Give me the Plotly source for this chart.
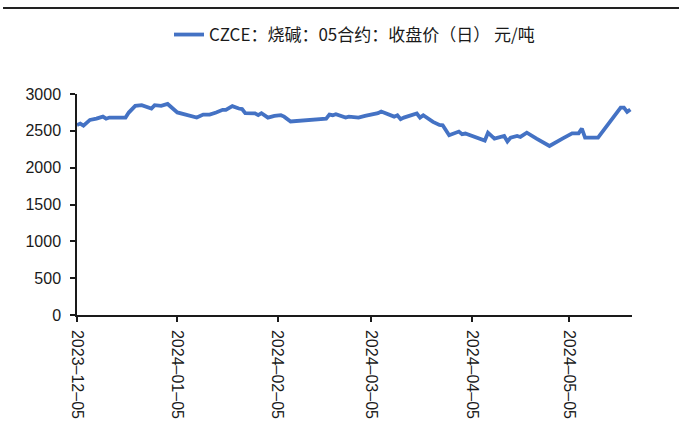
import plotly.graph_objects as go

# CZCE 烧碱 05合约 收盘价（日），元/吨
dates = [
    "2023-12-05", "2023-12-06", "2023-12-07", "2023-12-09", "2023-12-11",
    "2023-12-13", "2023-12-14", "2023-12-15", "2023-12-20", "2023-12-21",
    "2023-12-23", "2023-12-25", "2023-12-28", "2023-12-29", "2023-12-31",
    "2024-01-02", "2024-01-05", "2024-01-06", "2024-01-08", "2024-01-11",
    "2024-01-13", "2024-01-15", "2024-01-17", "2024-01-19", "2024-01-20",
    "2024-01-22", "2024-01-24", "2024-01-25", "2024-01-26", "2024-01-29",
    "2024-01-30", "2024-01-31", "2024-02-02", "2024-02-04", "2024-02-06",
    "2024-02-07", "2024-02-09", "2024-02-20", "2024-02-21", "2024-02-22",
    "2024-02-23", "2024-02-26", "2024-02-27", "2024-03-01", "2024-03-03",
    "2024-03-06", "2024-03-07", "2024-03-08", "2024-03-10", "2024-03-12",
    "2024-03-13", "2024-03-14", "2024-03-15", "2024-03-17", "2024-03-19",
    "2024-03-20", "2024-03-21", "2024-03-24", "2024-03-26", "2024-03-27",
    "2024-03-29", "2024-04-01", "2024-04-02", "2024-04-03", "2024-04-09",
    "2024-04-10", "2024-04-12", "2024-04-15", "2024-04-16", "2024-04-17",
    "2024-04-19", "2024-04-20", "2024-04-22", "2024-04-25", "2024-04-29",
    "2024-05-03", "2024-05-06", "2024-05-08", "2024-05-09", "2024-05-10",
    "2024-05-14", "2024-05-21", "2024-05-22", "2024-05-23", "2024-05-24",
]
close_price = [
    2580, 2598, 2570, 2648, 2665,
    2693, 2665, 2680, 2680, 2748,
    2838, 2848, 2803, 2848, 2840,
    2865, 2750, 2740, 2713, 2680,
    2720, 2720, 2748, 2785, 2785,
    2835, 2803, 2795, 2740, 2737,
    2713, 2740, 2680, 2703, 2712,
    2693, 2627, 2665, 2720, 2712,
    2726, 2680, 2693, 2680, 2703,
    2730, 2740, 2762, 2726, 2693,
    2712, 2658, 2680, 2703, 2735,
    2680, 2712, 2622, 2580, 2575,
    2440, 2490, 2455, 2463, 2367,
    2475, 2395, 2430, 2355, 2408,
    2430, 2417, 2475, 2395, 2295,
    2395, 2466, 2466, 2530, 2408,
    2408, 2815, 2815, 2758, 2790,
]

tick_dates = ["2023-12-05", "2024-01-05", "2024-02-05", "2024-03-05", "2024-04-05", "2024-05-05"]
tick_text = [d.replace("-", "–") for d in tick_dates]

LINE_BLUE = "#4472C4"
AXIS_FONT = dict(family="Liberation Sans, Arial, sans-serif", size=16, color="#1a1a1a")

fig = go.Figure()
fig.add_trace(
    go.Scatter(
        x=dates,
        y=close_price,
        mode="lines",
        name="CZCE：烧碱：05合约：收盘价（日） 元/吨",
        line=dict(color=LINE_BLUE, width=3.8),
    )
)

# thin rule across the top of the figure
fig.add_shape(
    type="line",
    xref="paper",
    yref="paper",
    x0=-0.1333,
    x1=1.085,
    y0=1.389,
    y1=1.389,
    line=dict(color="#222222", width=2),
)

fig.update_layout(
    width=679,
    height=422,
    margin=dict(l=77, r=47, t=94, b=107),
    paper_bgcolor="white",
    plot_bgcolor="white",
    showlegend=True,
    legend=dict(
        orientation="h",
        x=0.5,
        xanchor="center",
        y=1.267,
        yanchor="middle",
        font=dict(family="Noto Sans CJK SC", size=17, color="#1a1a1a"),
        bgcolor="rgba(0,0,0,0)",
    ),
    xaxis=dict(
        type="date",
        range=["2023-12-05", "2024-05-24 12:00"],
        tickmode="array",
        tickvals=tick_dates,
        ticktext=tick_text,
        tickangle=90,
        ticks="outside",
        ticklen=5,
        tickwidth=1.5,
        tickcolor="#1a1a1a",
        ticklabelstandoff=5,
        automargin=False,
        showline=True,
        linecolor="#1a1a1a",
        linewidth=1.5,
        showgrid=False,
        zeroline=False,
        tickfont=AXIS_FONT,
    ),
    yaxis=dict(
        range=[0, 3000],
        dtick=500,
        ticks="outside",
        ticklen=5,
        tickwidth=1.5,
        tickcolor="#1a1a1a",
        ticklabelstandoff=6,
        automargin=False,
        showline=True,
        linecolor="#1a1a1a",
        linewidth=1.5,
        showgrid=False,
        zeroline=False,
        tickfont=AXIS_FONT,
    ),
)

# drop the browser's default 8px body margin so the figure fills the window
fig.write_html(
    "out.html",
    config={"displayModeBar": False},
    post_script="document.body.style.margin='0';document.body.style.overflow='hidden';",
)
